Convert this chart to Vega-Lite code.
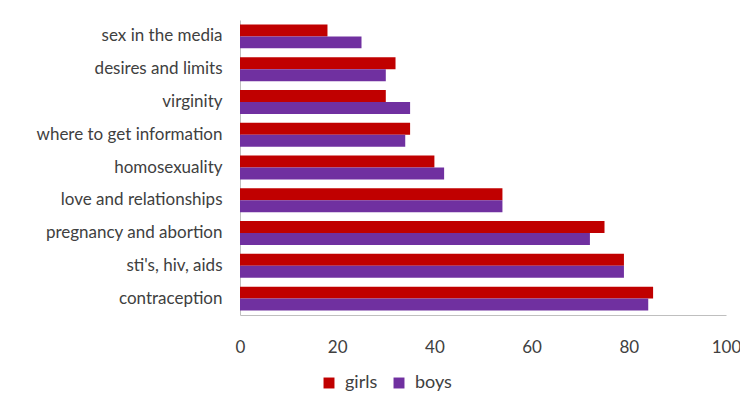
{
  "$schema": "https://vega.github.io/schema/vega-lite/v6.json",
  "autosize": "none",
  "width": 486,
  "height": 295,
  "padding": {"left": 240, "top": 20, "right": 14, "bottom": 88},
  "background": "white",
  "data": {
    "values": [
      {"topic": "sex in the media", "group": "girls", "value": 18},
      {"topic": "sex in the media", "group": "boys", "value": 25},
      {"topic": "desires and limits", "group": "girls", "value": 32},
      {"topic": "desires and limits", "group": "boys", "value": 30},
      {"topic": "virginity", "group": "girls", "value": 30},
      {"topic": "virginity", "group": "boys", "value": 35},
      {"topic": "where to get information", "group": "girls", "value": 35},
      {"topic": "where to get information", "group": "boys", "value": 34},
      {"topic": "homosexuality", "group": "girls", "value": 40},
      {"topic": "homosexuality", "group": "boys", "value": 42},
      {"topic": "love and relationships", "group": "girls", "value": 54},
      {"topic": "love and relationships", "group": "boys", "value": 54},
      {"topic": "pregnancy and abortion", "group": "girls", "value": 75},
      {"topic": "pregnancy and abortion", "group": "boys", "value": 72},
      {"topic": "sti's, hiv, aids", "group": "girls", "value": 79},
      {"topic": "sti's, hiv, aids", "group": "boys", "value": 79},
      {"topic": "contraception", "group": "girls", "value": 85},
      {"topic": "contraception", "group": "boys", "value": 84}
    ]
  },
  "mark": {"type": "bar"},
  "encoding": {
    "y": {
      "field": "topic",
      "type": "nominal",
      "sort": null,
      "scale": {"paddingInner": 0.27, "paddingOuter": 0.135},
      "axis": {
        "title": null,
        "ticks": false,
        "domainColor": "#bfbfbf",
        "labelFont": "Lato",
        "labelFontSize": 17,
        "labelColor": "#404040",
        "labelPadding": 18,
        "labelLimit": 240
      }
    },
    "yOffset": {"field": "group", "type": "nominal", "sort": ["girls", "boys"]},
    "x": {
      "field": "value",
      "type": "quantitative",
      "scale": {"domain": [0, 100]},
      "axis": {
        "title": null,
        "grid": false,
        "ticks": false,
        "values": [0, 20, 40, 60, 80, 100],
        "domainColor": "#bfbfbf",
        "labelFont": "Lato",
        "labelFontSize": 17,
        "labelColor": "#404040",
        "labelPadding": 24,
        "labelFlush": false
      }
    },
    "color": {
      "field": "group",
      "type": "nominal",
      "sort": ["girls", "boys"],
      "scale": {"domain": ["girls", "boys"], "range": ["#C00000", "#7030A0"]},
      "legend": {
        "title": null,
        "orient": "none",
        "direction": "horizontal",
        "legendX": 80,
        "legendY": 354,
        "symbolType": "square",
        "symbolSize": 120,
        "symbolStrokeWidth": 0,
        "labelFont": "Lato",
        "labelFontSize": 18,
        "labelColor": "#404040",
        "columnPadding": 12,
        "labelOffset": 7
      }
    }
  },
  "config": {"view": {"stroke": null}}
}
